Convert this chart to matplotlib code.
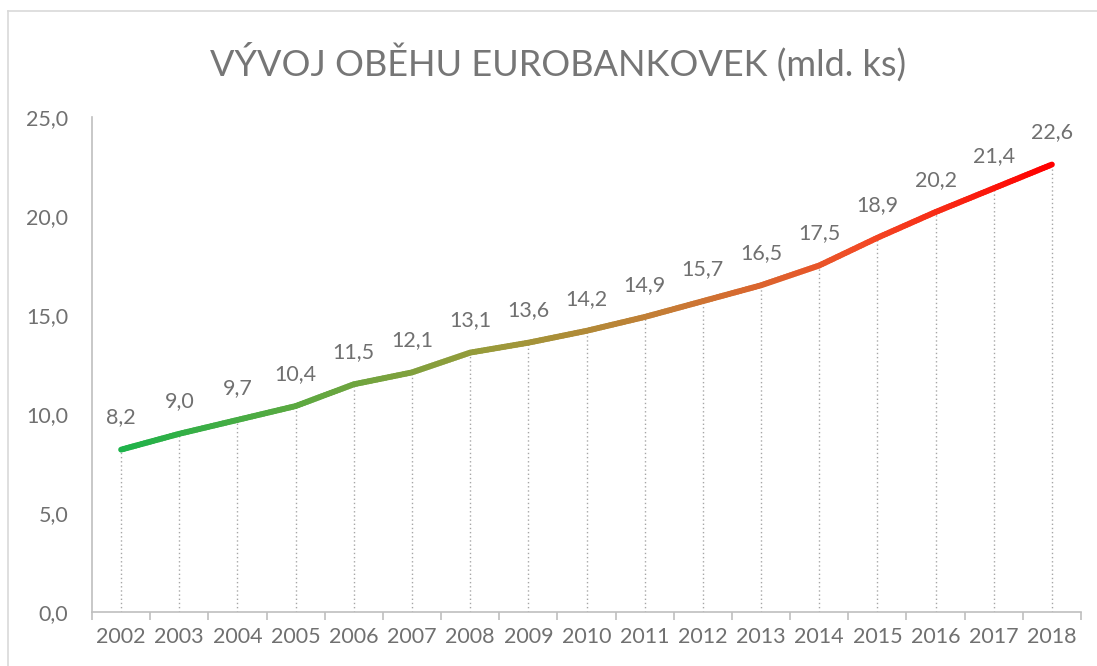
import numpy as np
import matplotlib.pyplot as plt
from matplotlib.collections import LineCollection
from matplotlib.colors import LinearSegmentedColormap
from matplotlib.lines import Line2D

# Data
years = ['2002', '2003', '2004', '2005', '2006', '2007', '2008', '2009', '2010',
         '2011', '2012', '2013', '2014', '2015', '2016', '2017', '2018']
values = [8.2, 9.0, 9.7, 10.4, 11.5, 12.1, 13.1, 13.6, 14.2,
          14.9, 15.7, 16.5, 17.5, 18.9, 20.2, 21.4, 22.6]

title = 'VÝVOJ OBĚHU EUROBANKOVEK (mld. ks)'
yticks = [0, 5, 10, 15, 20, 25]

plt.rcParams['font.family'] = ['Lato', 'DejaVu Sans']
text_color = '#707070'
axis_color = '#bfbfbf'

fig = plt.figure(figsize=(10.97, 6.66), dpi=100)
ax = fig.add_axes([92 / 1097, 1 - 612 / 666, (1081 - 92) / 1097, (612 - 117) / 666])

x = np.arange(len(years))

# drop lines from each point to the axis
for xi, v in zip(x, values):
    ax.plot([xi, xi], [0, v], color='#a6a6a6', lw=1, ls=(0, (1, 2)), zorder=1)

# gradient line (green -> red along x)
cmap = LinearSegmentedColormap.from_list(
    'gr', ['#1db34a', '#5fa840', '#9a9a3a', '#c87a35', '#f24a25', '#ff0000'])
segs, cols = [], []
n_sub = 20
for i in range(len(x) - 1):
    for k in range(n_sub):
        t0, t1 = k / n_sub, (k + 1) / n_sub
        x0 = x[i] + t0
        x1 = x[i] + t1
        y0 = values[i] + (values[i + 1] - values[i]) * t0
        y1 = values[i] + (values[i + 1] - values[i]) * t1
        segs.append([(x0, y0), (x1, y1)])
        cols.append(cmap((x0 + x1) / 2 / (len(x) - 1)))
lc = LineCollection(segs, colors=cols, linewidths=4.2, capstyle='round', zorder=3)
ax.add_collection(lc)

# data labels
for xi, v in zip(x, values):
    ax.annotate(f'{v:.1f}'.replace('.', ','), (xi, v), xytext=(0, 16),
                textcoords='offset points', ha='center', va='bottom',
                fontsize=15.5, color=text_color)

ax.set_xlim(-0.5, len(x) - 0.5)
ax.set_ylim(0, 25)
ax.set_yticks(yticks)
ax.set_yticklabels([f'{t:.1f}'.replace('.', ',') for t in yticks])
ax.set_xticks(x)
ax.set_xticklabels(years)
ax.set_xticks(np.arange(len(x) + 1) - 0.5, minor=True)
ax.tick_params(axis='x', which='major', length=0, pad=11, labelsize=15.5, labelcolor=text_color)
ax.tick_params(axis='x', which='minor', length=6, color=axis_color, width=1.2)
ax.tick_params(axis='y', length=0, pad=17, labelsize=15.5, labelcolor=text_color)

for s in ['top', 'right']:
    ax.spines[s].set_visible(False)
for s in ['left', 'bottom']:
    ax.spines[s].set_color(axis_color)
    ax.spines[s].set_linewidth(1.2)

fig.text(558 / 1097, 1 - 62 / 666, title, ha='center', va='center',
         fontsize=26, color='#767676')

# chart area border
fig.add_artist(Line2D([8 / 1097, 1], [1 - 11 / 666, 1 - 11 / 666], color='#d9d9d9', lw=1.2))
fig.add_artist(Line2D([8 / 1097, 8 / 1097], [0, 1 - 11 / 666], color='#d9d9d9', lw=1.2))

fig.savefig('out.png', dpi=100, facecolor='white')
